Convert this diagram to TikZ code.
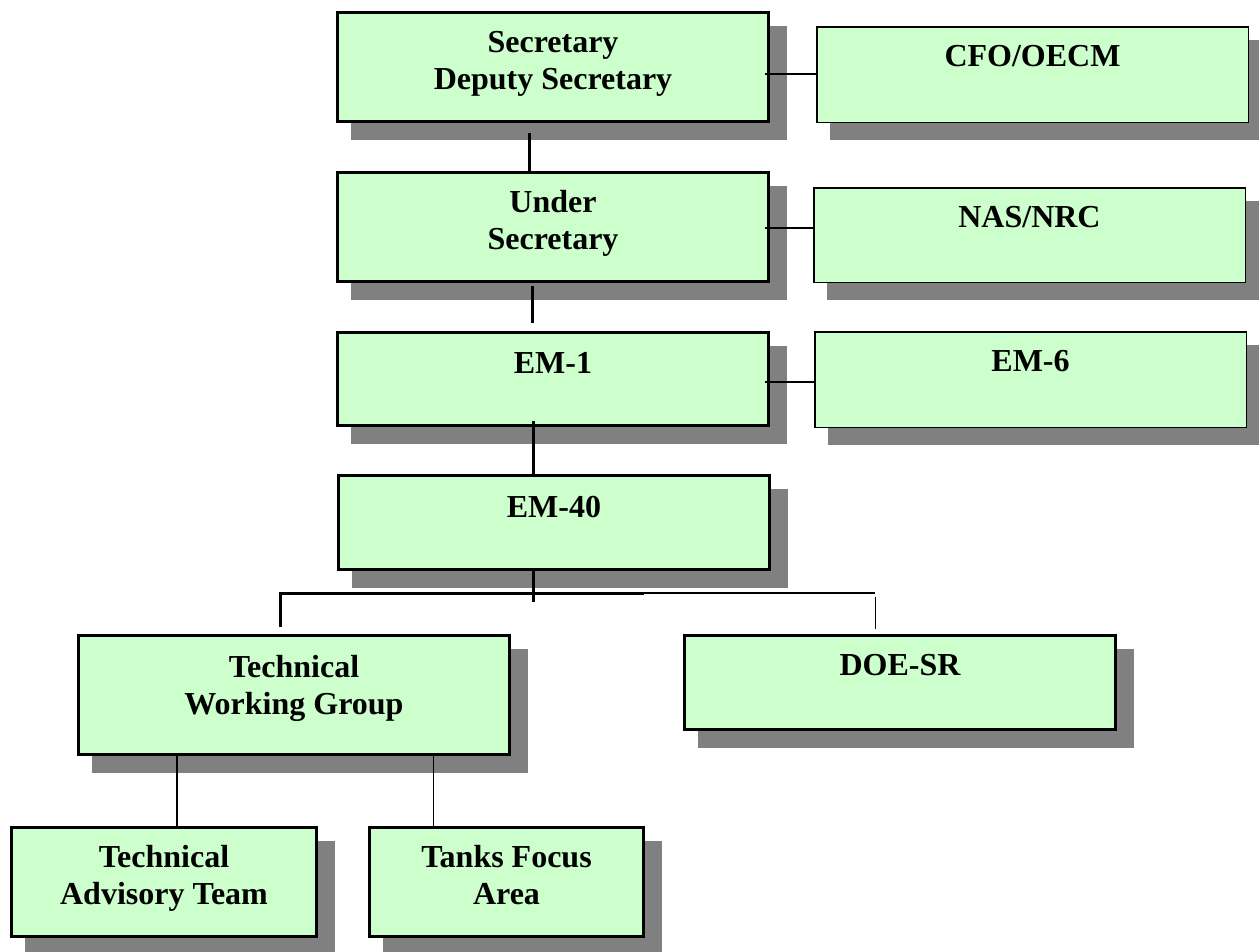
\documentclass[tikz,border=0pt]{standalone}
\usepackage{fontspec}
\setmainfont{Liberation Serif}
\definecolor{boxfill}{HTML}{CCFFCC}
\definecolor{shadowgray}{HTML}{808080}
\pgfdeclarelayer{shadowlayer}
\pgfsetlayers{shadowlayer,main}
\newcommand\boxlines[1]{\vtop{\halign{\hfil##\hfil\cr#1\crcr}}}
\begin{document}
\begin{tikzpicture}[x=1pt,y=-1pt,
  orgbox/.style={draw, fill=boxfill, line width=3pt, minimum width=431pt,
    minimum height=109pt, anchor=north west, inner sep=0pt, outer sep=0pt},
  sidebox/.style={orgbox, line width=1.5pt, minimum width=431.5pt, minimum height=95.5pt},
  boxlabel/.style={anchor=base, inner sep=0pt, outer sep=0pt,
    font=\fontsize{32}{37}\selectfont\bfseries},
  mainlink/.style={line width=3pt},
  sidelink/.style={line width=1.5pt},
  thinlink/.style={line width=1.3pt}]
\useasboundingbox (0,0) rectangle (1259,951);

% boxes
\node[orgbox] (sec) at (337.5,12.5) {};
\node[orgbox] (under) at (337.5,172.5) {};
\node[orgbox, minimum height=93pt] (em1) at (337.5,332.5) {};
\node[orgbox, minimum height=94pt] (em40) at (338.5,475.5) {};
\node[sidebox] (cfo) at (816.75,26.75) {};
\node[sidebox, minimum height=94.5pt] (nas) at (813.75,187.75) {};
\node[sidebox] (em6) at (814.75,331.75) {};
\node[orgbox, minimum height=119pt] (twg) at (78.5,635.5) {};
\node[orgbox, minimum height=94pt] (doesr) at (684.5,635.5) {};
\node[orgbox, minimum width=305pt] (tat) at (11.5,827.5) {};
\node[orgbox, minimum width=274pt] (tfa) at (369.5,827.5) {};

% shadows
\begin{pgfonlayer}{shadowlayer}
\foreach \b in {sec,under,em1,em40,cfo,nas,em6,twg,doesr,tat,tfa}
  \fill[shadowgray] ([xshift=13.5pt,yshift=-13pt]\b.north west)
    rectangle ([xshift=18.5pt,yshift=-18pt]\b.south east);
\end{pgfonlayer}

% texts
\node[boxlabel] (secT) at ([yshift=-40pt]sec.north) {\boxlines{Secretary\cr Deputy Secretary}};
\node[boxlabel] (underT) at ([yshift=-40pt]under.north) {\boxlines{Under\cr Secretary}};
\node[boxlabel] (em1T) at ([yshift=-40.5pt]em1.north) {\boxlines{EM-1}};
\node[boxlabel] (em40T) at ([yshift=-41.5pt]em40.north) {\boxlines{EM-40}};
\node[boxlabel] (cfoT) at ([yshift=-40pt]cfo.north) {\boxlines{CFO/OECM}};
\node[boxlabel] (nasT) at ([yshift=-40pt]nas.north) {\boxlines{NAS/NRC}};
\node[boxlabel] (em6T) at ([yshift=-39.5pt]em6.north) {\boxlines{EM-6}};
\node[boxlabel] (twgT) at ([yshift=-42pt]twg.north) {\boxlines{Technical\cr Working Group}};
\node[boxlabel] (doesrT) at ([yshift=-40pt]doesr.north) {\boxlines{DOE-SR}};
\node[boxlabel] (tatT) at ([yshift=-40pt]tat.north) {\boxlines{Technical\cr Advisory Team}};
\node[boxlabel] (tfaT) at ([yshift=-40pt]tfa.north) {\boxlines{Tanks Focus\cr Area}};

% main column connectors
\draw[mainlink] ([xshift=-24pt,yshift=-11pt]sec.south) -- ([xshift=-24pt]under.north);
\draw[mainlink] ([xshift=-21pt,yshift=-4.5pt]under.south) -- ([xshift=-21pt,yshift=9.5pt]em1.north);
\coordinate (em1J) at ([xshift=-20pt,yshift=4.5pt]em1.south);
\draw[mainlink] (em1J) -- ([yshift=-1.5pt]em1J |- em40.north);
\coordinate (busR) at (644,593);
\coordinate (busTurn) at (875,593);
\draw[mainlink] (em1J |- em40.south) -- ++(0,32.5);
\draw[mainlink] ([xshift=-14pt,yshift=8.5pt]twg.north) |- (busR);
\draw[thinlink] (busR) -- (busTurn);
\draw[thinlink] ([xshift=-24.5pt,yshift=38.5pt]doesr.north) -- ([xshift=-24.5pt,yshift=6.5pt]doesr.north);

% side connectors
\coordinate (cfoJ) at ([yshift=0.5pt]cfo.west);
\coordinate (nasJ) at ([yshift=7pt]nas.west);
\coordinate (em6J) at ([yshift=-2.5pt]em6.west);
\draw[sidelink] (cfoJ) -- ([xshift=-4pt]cfoJ -| sec.east);
\draw[sidelink] (nasJ) -- ([xshift=-4pt]nasJ -| under.east);
\draw[sidelink] (em6J) -- ([xshift=-4pt]em6J -| em1.east);

% lower connectors
\draw[thinlink] ([xshift=13pt]tat.north) -- ([xshift=13pt]tat.north |- twg.south);
\draw[thinlink] ([xshift=-73pt]tfa.north) -- ([xshift=-73pt]tfa.north |- twg.south);
\end{tikzpicture}
\end{document}
